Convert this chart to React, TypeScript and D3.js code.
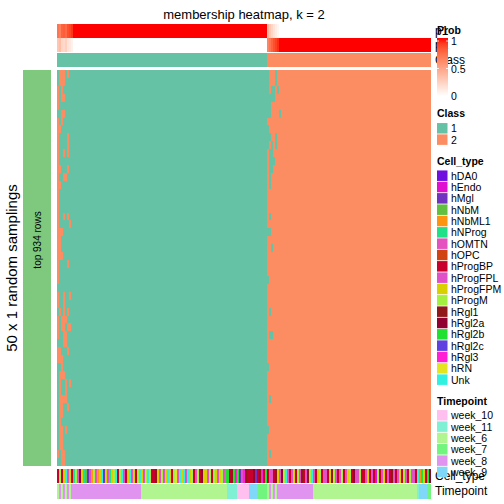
import React from "react";
import * as d3 from "d3";

// ---------- data ----------
const CELL_TYPES = ["hDA0","hEndo","hMgl","hNbM","hNbML1","hNProg","hOMTN","hOPC","hProgBP","hProgFPL","hProgFPM","hProgM","hRgl1","hRgl2a","hRgl2b","hRgl2c","hRgl3","hRN","Unk"];
const CELL_COLORS = ["#7010E0","#E010D0","#7034C0","#62C040","#FF9410","#20E088","#E452C0","#D04414","#C8002C","#E050C8","#D8D000","#A4F040","#901818","#900030","#20E030","#6040E0","#FF20D4","#E4E420","#30F0E0"];
// one letter per column: a = hDA0 ... s = Unk
const cellTypeCodes =
  "iliksgkifl" + "jnkfdcjelg" + "eksckjfkls" + "ilsjiksgki" + "lskjlsliim" +
  "kgljkskilr" + "gsksjsklig" + "linkkjlilk" + "jklgooimoq" + "ocjqmiiinc" +
  "imqioijgim" + "kgnlsgijki" + "lgmijmlsgi" + "kligjikmlg" + "ijligklinj" +
  "gliigkijib" + "ligkijimgi" + "jkilgiljgi" + "seokion";

const TIMEPOINTS = ["week_10","week_11","week_6","week_7","week_8","week_9"];
const TIME_COLORS = ["#FFC0F0","#80F0D4","#B0F590","#72F57E","#E094F0","#80D8F8"];
const timepointRuns: [string, number][] = [
  ["week_6",1],["week_8",1],["week_6",1],["week_8",1],["week_6",1],["week_8",1],["week_6",1],
  ["week_8",35],["week_6",43],["week_11",5],["week_10",6],["week_9",4],["week_7",5],
  ["week_6",1],["week_8",1],["week_6",1],["week_8",1],["week_6",1],["week_8",1],
  ["week_8",17],["week_6",52],["week_11",1],["week_9",4],["week_7",2]
];

const CLASSES = ["1","2"];
const CLASS_COLORS = ["#66C2A5","#FC8D62"];
const classRuns: [number, number][] = [[1,105],[2,82]];

// membership probability of class 1 per column (runs: value, count)
const p1Runs: [number, number][] = [
  [0.7,1],[0.65,1],[0.78,1],[0.8,1],[0.75,1],[0.85,1],[0.88,1],[0.93,1],
  [1,97],
  [0.38,1],[0.3,1],[0.22,1],[0.15,1],[0.1,1],[0.05,1],
  [0,76]
];

const N_ROWS = 50;
// cells whose class differs from the column consensus: [row, colStart, colEnd]
const flips: [number, number, number][] = [
  [0,1,3],[0,5,5],[1,1,3],[2,0,0],[2,2,2],[3,0,0],[3,2,3],[4,0,0],[5,2,3],[6,0,0],[6,2,2],
  [7,0,1],[8,0,0],[8,5,5],[9,0,0],[9,5,5],[10,0,0],[10,3,3],[10,5,5],[11,0,0],[12,0,1],[12,5,5],
  [13,0,0],[13,3,4],[14,0,1],[15,0,0],[16,0,0],[17,0,0],[18,0,0],[18,3,3],[18,5,5],[19,0,0],[19,6,6],
  [20,0,1],[20,2,2],[21,0,1],[22,0,1],[23,0,1],[23,2,2],[24,0,0],[24,5,5],[25,0,0],[26,0,0],
  [28,0,0],[28,3,3],[28,6,6],[29,0,0],[29,3,3],[30,1,1],[30,3,3],[30,5,5],[31,0,0],[31,2,3],[31,4,4],
  [32,0,0],[32,2,3],[32,5,6],[33,0,0],[33,3,4],[34,3,4],[35,0,1],[35,5,5],[36,0,1],[36,2,2],[37,2,2],
  [38,1,1],[38,2,3],[39,1,1],[39,4,4],[39,6,6],[40,1,1],[40,4,4],[41,1,1],[41,2,3],[41,4,4],
  [42,1,2],[42,5,5],[43,1,2],[44,1,1],[45,1,2],[45,4,4],[46,1,2],[47,1,1],[47,2,2],[48,0,0],[48,2,3],[49,2,3],
  [0,105,105],[0,109,109],[1,105,105],[1,109,109],[2,105,105],[2,107,108],[2,110,110],[3,105,108],
  [4,105,106],[5,105,106],[5,111,111],[7,105,105],[8,105,106],[8,109,109],[9,105,105],[9,107,107],[9,109,109],
  [10,106,107],[11,106,108],[12,106,107],[13,106,106],[14,106,106],[18,106,106],[20,105,106],[22,107,107],
  [26,105,105],[30,106,106],[33,106,107],[37,105,105],[41,106,106],[45,105,105],[48,106,106]
];

// ---------- helpers ----------
function expand<T>(runs: [T, number][]): T[] {
  const out: T[] = [];
  runs.forEach(([v, n]) => { for (let i = 0; i < n; i++) out.push(v); });
  return out;
}

const FONT = "'Liberation Sans', Arial, Helvetica, sans-serif";

export default function App() {
  const colClass = expand(classRuns);
  const p1 = expand(p1Runs);
  const p2 = p1.map(v => 1 - v);
  const timeCol = expand(timepointRuns);
  const cellCol = cellTypeCodes.split("").map(c => c.charCodeAt(0) - 97);
  const nCol = colClass.length;

  const x = d3.scaleBand<number>().domain(d3.range(nCol)).range([57, 431]).padding(0);
  const y = d3.scaleBand<number>().domain(d3.range(N_ROWS)).range([70, 466]).padding(0);
  const prob = d3.scaleLinear<string>().domain([0, 1]).range(["#FFFFFF", "#FF0000"]).interpolate(d3.interpolateLab);
  const classColor = d3.scaleOrdinal<number, string>().domain([1, 2]).range(CLASS_COLORS);
  const timeColor = d3.scaleOrdinal<string, string>().domain(TIMEPOINTS).range(TIME_COLORS);

  // matrix
  const matrix: number[][] = d3.range(N_ROWS).map(() => colClass.slice());
  flips.forEach(([r, c0, c1]) => {
    for (let c = c0; c <= c1; c++) matrix[r][c] = matrix[r][c] === 1 ? 2 : 1;
  });
  const cells: { r: number; c0: number; c1: number; v: number }[] = [];
  matrix.forEach((row, r) => {
    let start = 0;
    for (let c = 1; c <= nCol; c++) {
      if (c === nCol || row[c] !== row[start]) {
        cells.push({ r, c0: start, c1: c - 1, v: row[start] });
        start = c;
      }
    }
  });
  const bw = x.bandwidth();

  const colRects = (vals: any[], color: (v: any) => string, y0: number, h: number, key: string) =>
    vals.map((v, i) => (
      <rect key={key + i} x={x(i)!} y={y0} width={bw + 0.05} height={h} fill={color(v)} />
    ));

  const probScale = d3.scaleLinear().domain([0, 1]).range([96, 41]);
  const gradStops = d3.range(0, 1.0001, 0.1);

  const legX = 437;
  const sw = 10.5;
  const step = 11.33;
  const classLegY = 128.3;
  const cellLegY = 175.7;
  const timeLegY = 415.3;

  return (
    <svg width={504} height={504} style={{ position: "absolute", left: 0, top: 0, fontFamily: FONT }}>
      <defs>
        <linearGradient id="probGrad" x1="0" y1="1" x2="0" y2="0">
          {gradStops.map(s => (
            <stop key={s} offset={s} stopColor={prob(s)} />
          ))}
        </linearGradient>
      </defs>
      <rect x={0} y={0} width={504} height={504} fill="#FFFFFF" />
      <text x={244} y={14} textAnchor="middle" dominantBaseline="central" fontSize={13}>
        membership heatmap, k = 2
      </text>

      <g shapeRendering="crispEdges">
        {colRects(p1, prob, 24, 14, "p1")}
        {colRects(p2, prob, 38, 14, "p2")}
        {colRects(colClass, classColor, 53, 14, "cl")}
        {cells.map((d, i) => (
          <rect key={"h" + i} x={x(d.c0)!} y={y(d.r)!} width={(d.c1 - d.c0 + 1) * bw} height={y.bandwidth() + 0.05} fill={classColor(d.v)} />
        ))}
        {colRects(cellCol, (v: number) => CELL_COLORS[v], 469, 14, "ct")}
        {colRects(timeCol, timeColor, 484, 14.5, "tp")}
        <rect x={23} y={70} width={28} height={396} fill="#7FC97F" />
      </g>

      <text transform="translate(37,240) rotate(-90)" textAnchor="middle" dominantBaseline="central" fontSize={10}>
        top 934 rows
      </text>
      <text transform="translate(11,268) rotate(-90)" textAnchor="middle" dominantBaseline="central" fontSize={15}>
        50 x 1 random samplings
      </text>

      {/* annotation names */}
      <text x={435} y={31} dominantBaseline="central" fontSize={12}>p1</text>
      <text x={435} y={45} dominantBaseline="central" fontSize={12}>p2</text>
      <text x={435} y={60} dominantBaseline="central" fontSize={12}>Class</text>
      <text x={435} y={476} dominantBaseline="central" fontSize={12}>Cell_type</text>
      <text x={435} y={491} dominantBaseline="central" fontSize={12}>Timepoint</text>

      {/* Prob legend */}
      <text x={legX} y={30} dominantBaseline="central" fontSize={10.5} fontWeight="bold">Prob</text>
      <rect x={legX} y={38} width={11} height={58} fill="url(#probGrad)" />
      {[1, 0.5, 0].map(v => (
        <g key={"pl" + v}>
          <line x1={legX} x2={legX + 2} y1={probScale(v)} y2={probScale(v)} stroke="#FFFFFF" strokeWidth={0.8} />
          <line x1={legX + 9} x2={legX + 11} y1={probScale(v)} y2={probScale(v)} stroke="#FFFFFF" strokeWidth={0.8} />
          <text x={legX + 14} y={probScale(v)} dominantBaseline="central" fontSize={10.5}>{String(v)}</text>
        </g>
      ))}

      {/* Class legend */}
      <text x={legX} y={113} dominantBaseline="central" fontSize={10.5} fontWeight="bold">Class</text>
      {CLASSES.map((c, i) => (
        <g key={"cl" + c}>
          <rect x={legX} y={classLegY + i * step - sw / 2} width={sw} height={sw} fill={CLASS_COLORS[i]} />
          <text x={legX + 14} y={classLegY + i * step} dominantBaseline="central" fontSize={10.5}>{c}</text>
        </g>
      ))}

      {/* Cell type legend */}
      <text x={legX} y={161.3} dominantBaseline="central" fontSize={10.5} fontWeight="bold">Cell_type</text>
      {CELL_TYPES.map((c, i) => (
        <g key={"ctl" + c}>
          <rect x={legX} y={cellLegY + i * step - sw / 2} width={sw} height={sw} fill={CELL_COLORS[i]} />
          <text x={legX + 14} y={cellLegY + i * step} dominantBaseline="central" fontSize={10.5}>{c}</text>
        </g>
      ))}

      {/* Timepoint legend */}
      <text x={legX} y={401} dominantBaseline="central" fontSize={10.5} fontWeight="bold">Timepoint</text>
      {TIMEPOINTS.map((c, i) => (
        <g key={"tpl" + c}>
          <rect x={legX} y={timeLegY + i * step - sw / 2} width={sw} height={sw} fill={TIME_COLORS[i]} />
          <text x={legX + 14} y={timeLegY + i * step} dominantBaseline="central" fontSize={10.5}>{c}</text>
        </g>
      ))}
    </svg>
  );
}
